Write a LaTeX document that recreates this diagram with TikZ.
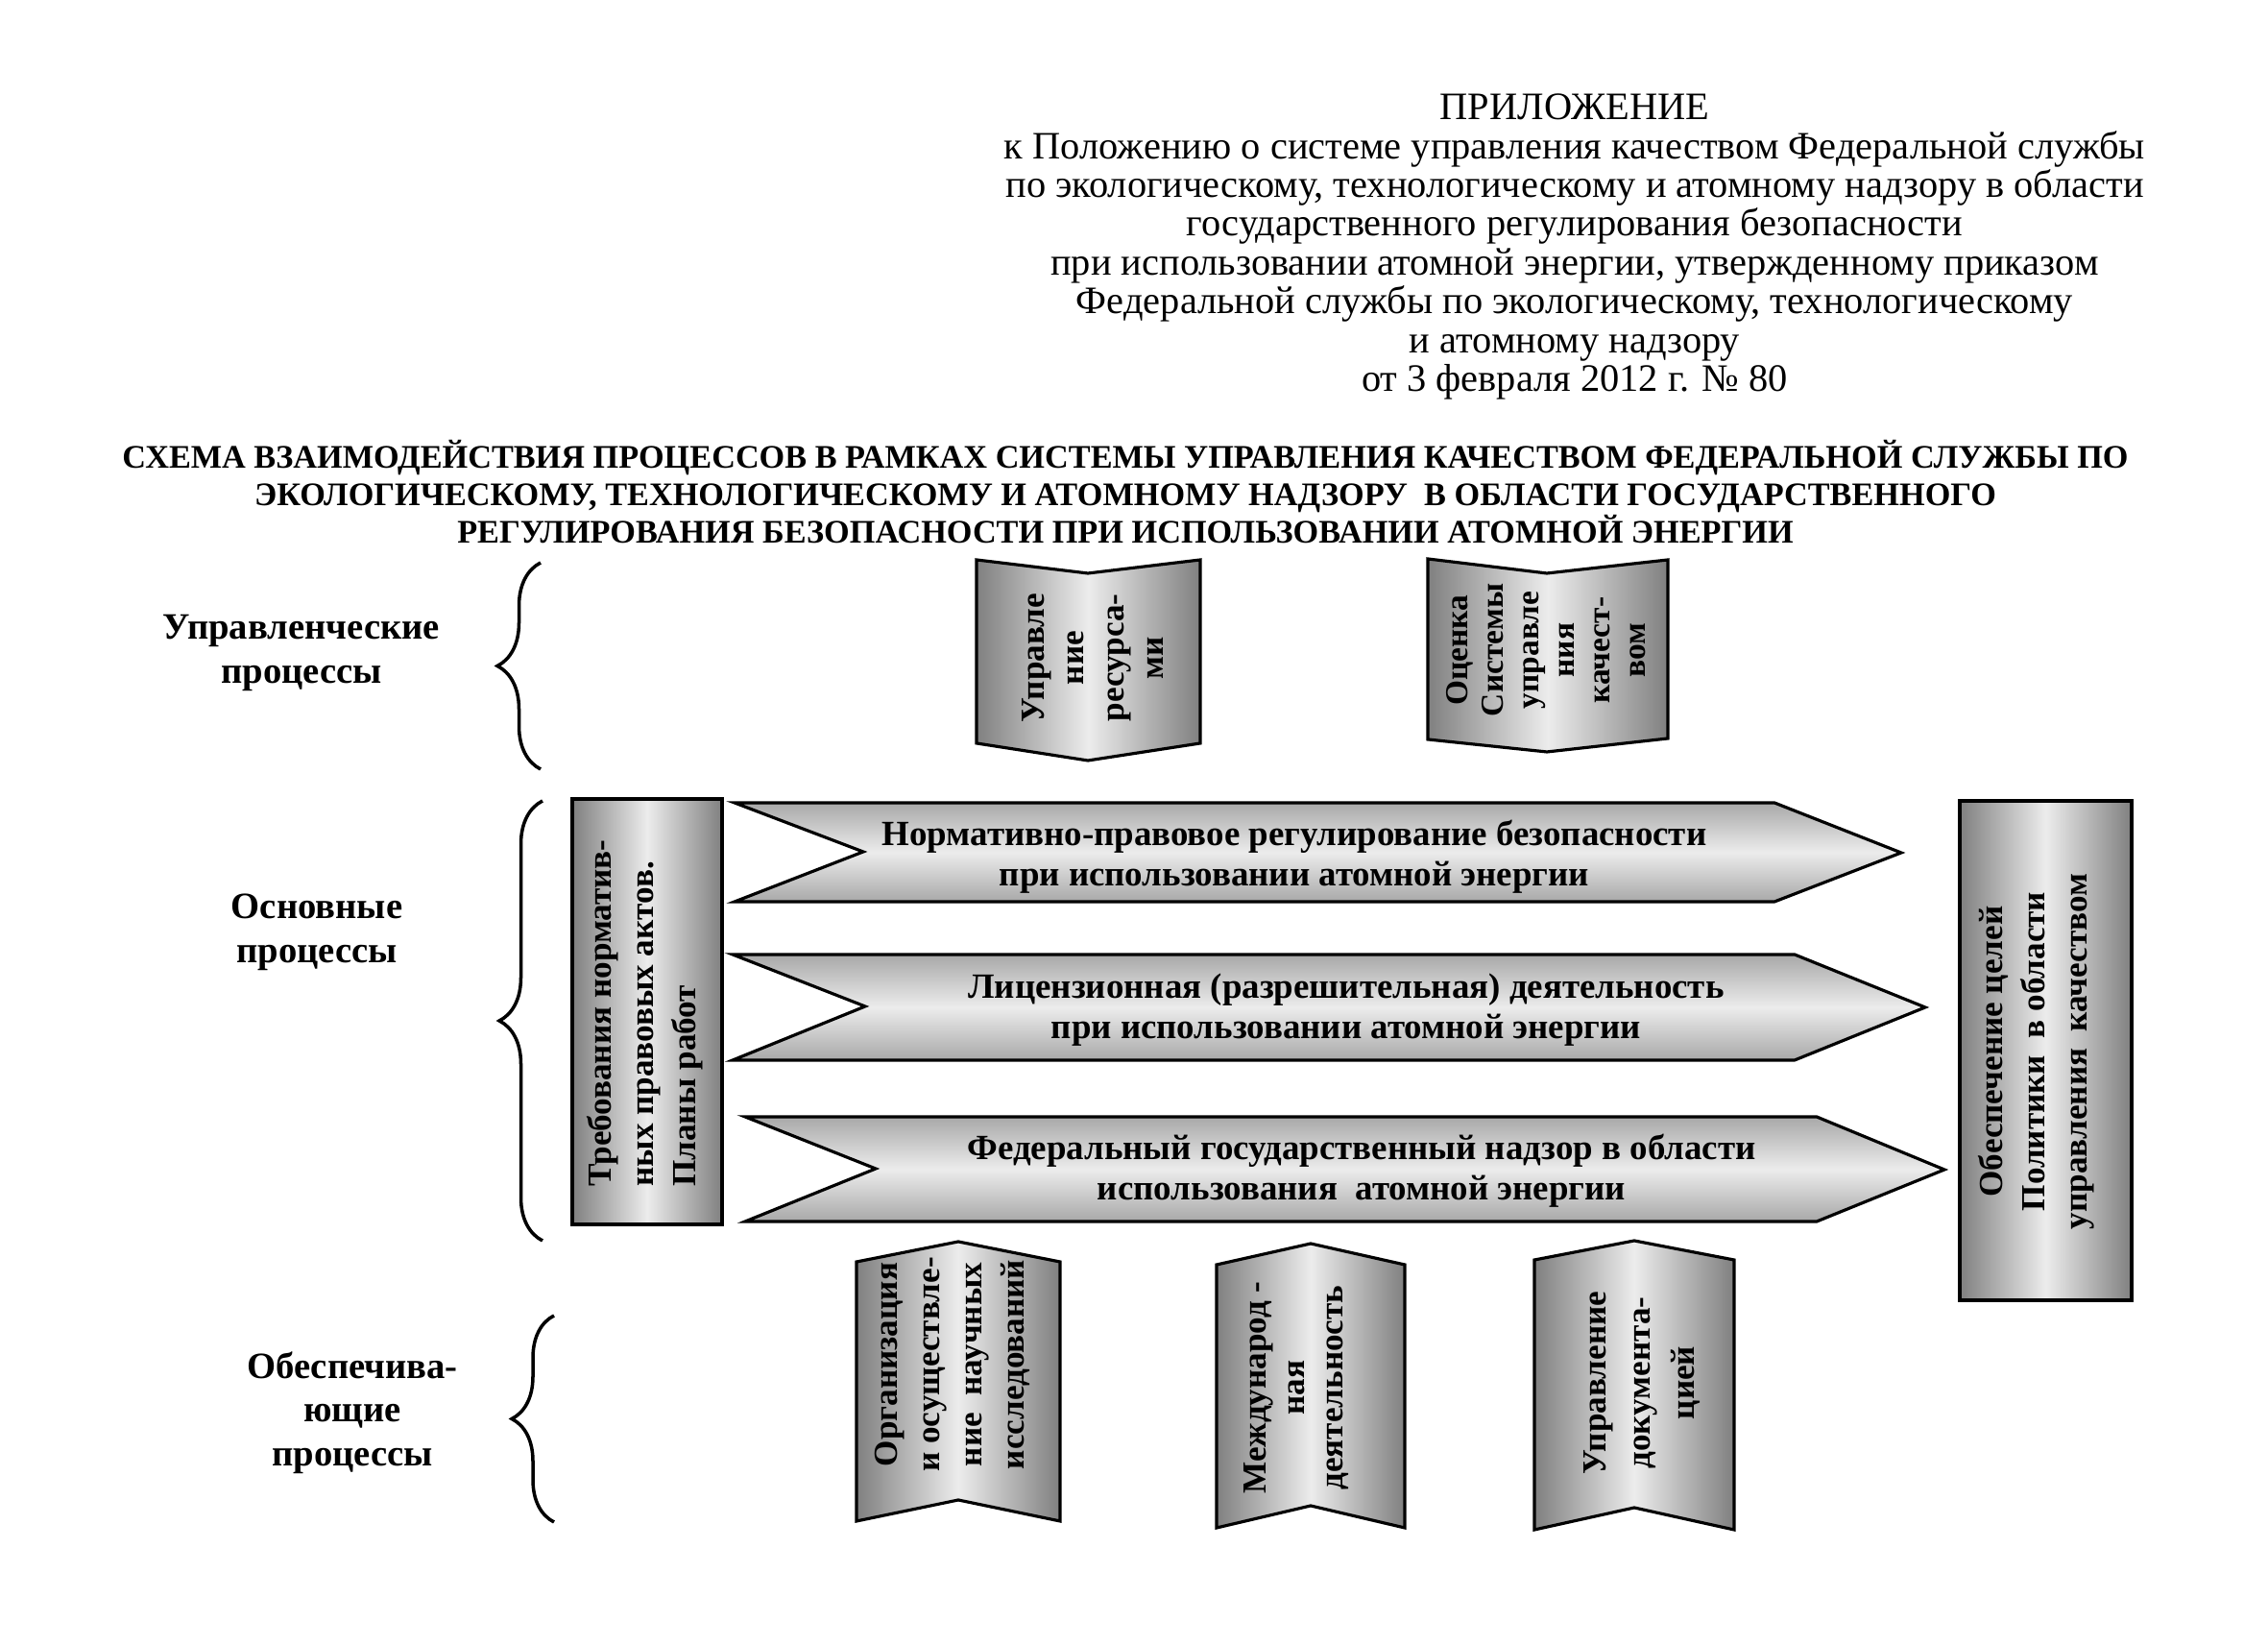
\documentclass[tikz,border=0pt]{standalone}
\usepackage{fontspec}
\setmainfont{Liberation Serif}
\usetikzlibrary{decorations.pathreplacing}
\definecolor{shadedark}{RGB}{128,128,128}
\definecolor{shademid}{RGB}{168,168,168}
\definecolor{shadelight}{RGB}{236,236,236}

\tikzset{
  vband/.style={left color=shadedark, right color=shadedark, middle color=shadelight, draw=black, line width=0.9pt},
  hband/.style={top color=shademid, bottom color=shademid, middle color=shadelight, draw=black, line width=0.9pt},
  proctext/.style={font=\fontsize{10}{12}\selectfont\bfseries, align=center, rotate=90, inner sep=0pt},
  arrowtext/.style={font=\fontsize{10.5}{12}\selectfont\bfseries, align=center, inner sep=0pt},
  grouplabel/.style={font=\fontsize{11}{13}\selectfont\bfseries, align=center, inner sep=0pt},
  curly/.style={decorate, decoration={brace, amplitude=0.45cm}, line width=1pt}
}

\begin{document}
\begin{tikzpicture}
  \useasboundingbox (0,0) rectangle (23.62,17.13);

  % ===== 标题 =====
  \node[font=\fontsize{11.5}{11.5}\selectfont, align=center, inner sep=0pt] (appx) at (16.40, 14.56)
    {ПРИЛОЖЕНИЕ\\
     к Положению о системе управления качеством Федеральной службы\\
     по экологическому, технологическому и атомному надзору в области\\
     государственного регулирования безопасности\\
     при использовании атомной энергии, утвержденному приказом\\
     Федеральной службы по экологическому, технологическому\\
     и атомному надзору\\
     от 3 февраля 2012 г. № 80};

  \node[font=\fontsize{9.75}{11.1}\selectfont\bfseries, align=center, inner sep=0pt] (scheme) at (11.72, 12.01)
    {СХЕМА ВЗАИМОДЕЙСТВИЯ ПРОЦЕССОВ В РАМКАХ СИСТЕМЫ УПРАВЛЕНИЯ КАЧЕСТВОМ ФЕДЕРАЛЬНОЙ СЛУЖБЫ ПО\\
     ЭКОЛОГИЧЕСКОМУ, ТЕХНОЛОГИЧЕСКОМУ И АТОМНОМУ НАДЗОРУ\ \ В ОБЛАСТИ ГОСУДАРСТВЕННОГО\\
     РЕГУЛИРОВАНИЯ БЕЗОПАСНОСТИ ПРИ ИСПОЛЬЗОВАНИИ АТОМНОЙ ЭНЕРГИИ};

  % ===== 左侧分组 =====
  \node[grouplabel] (mgmt) at (3.14, 10.33) {Управленческие\\процессы};
  \node[grouplabel] (core) at (3.30, 7.42) {Основные\\процессы};
  \node[grouplabel] (supp) at (3.67, 2.42) {Обеспечива-\\ющие\\процессы};

  \draw[curly] (5.63, 9.12) -- (5.63, 11.27);
  \draw[curly] (5.65, 4.21) -- (5.65, 8.79);
  \draw[curly, decoration={amplitude=0.44cm}] (5.77, 1.28) -- (5.77, 3.43);

  % ===== 管理过程 =====
  \shade[vband] (10.17,11.30) -- (11.33,11.16) -- (12.50,11.30) -- (12.50,9.39) -- (11.33,9.21) -- (10.17,9.39) -- cycle;
  \node[proctext, font=\fontsize{10}{11.7}\selectfont\bfseries] (res) at (11.38, 10.28) {Управле\\ние\\ресурса-\\ми};

  \shade[vband] (14.87,11.31) -- (16.11,11.16) -- (17.37,11.30) -- (17.37,9.44) -- (16.11,9.30) -- (14.87,9.43) -- cycle;
  \node[proctext, font=\fontsize{9.5}{10.5}\selectfont\bfseries] (eval) at (16.10, 10.36)
    {Оценка\\Системы\\управле\\ния\\качест-\\вом};

  % ===== 主要过程 =====
  \shade[vband] (5.96,8.81) rectangle (7.52,4.38);
  \node[proctext, align=left, font=\fontsize{10}{12.5}\selectfont\bfseries] (reqs) at (6.72, 6.58)
    {Требования норматив-\\ных правовых актов.\\Планы работ};

  \shade[hband] (7.65,8.77) -- (18.48,8.77) -- (19.80,8.25) -- (18.48,7.74) -- (7.65,7.74) -- (8.99,8.26) -- cycle;
  \node[arrowtext] (norm) at (13.48, 8.21)
    {Нормативно-правовое регулирование безопасности\\при использовании атомной энергии};

  \shade[hband] (7.63,7.19) -- (18.69,7.19) -- (20.05,6.64) -- (18.69,6.09) -- (7.63,6.09) -- (9.01,6.65) -- cycle;
  \node[arrowtext] (lic) at (14.02, 6.61)
    {Лицензионная (разрешительная) деятельность\\при использовании атомной энергии};

  \shade[hband] (7.76,5.50) -- (18.92,5.50) -- (20.25,4.95) -- (18.92,4.41) -- (7.76,4.41) -- (9.12,4.96) -- cycle;
  \node[arrowtext] (supv) at (14.18, 4.94)
    {Федеральный государственный надзор в области\\использования\ \ атомной энергии};

  \shade[vband] (20.41,8.79) rectangle (22.20,3.59);
  \node[proctext, font=\fontsize{10}{12.5}\selectfont\bfseries] (goals) at (21.21, 6.18)
    {Обеспечение целей\\Политики\ \ в области\\управления\ \ качеством};

  % ===== 支持过程 =====
  \shade[vband] (8.92,3.99) -- (9.98,4.20) -- (11.04,3.99) -- (11.04,1.29) -- (9.98,1.51) -- (8.92,1.29) -- cycle;
  \node[proctext, font=\fontsize{10}{12.5}\selectfont\bfseries] (sci) at (9.92, 2.92)
    {Организация\\и осуществле-\\ние\ \ научных\\исследований};

  \shade[vband] (12.67,3.96) -- (13.65,4.18) -- (14.63,3.96) -- (14.63,1.22) -- (13.65,1.45) -- (12.67,1.22) -- cycle;
  \node[proctext, font=\fontsize{10}{11.4}\selectfont\bfseries] (intl) at (13.50, 2.68)
    {Международ -\\ная\\деятельность};

  \shade[vband] (15.98,4.01) -- (17.02,4.21) -- (18.06,4.01) -- (18.06,1.20) -- (17.02,1.43) -- (15.98,1.20) -- cycle;
  \node[proctext, font=\fontsize{10}{13}\selectfont\bfseries] (docs) at (17.10, 2.73)
    {Управление\\документа-\\цией};
\end{tikzpicture}
\end{document}
